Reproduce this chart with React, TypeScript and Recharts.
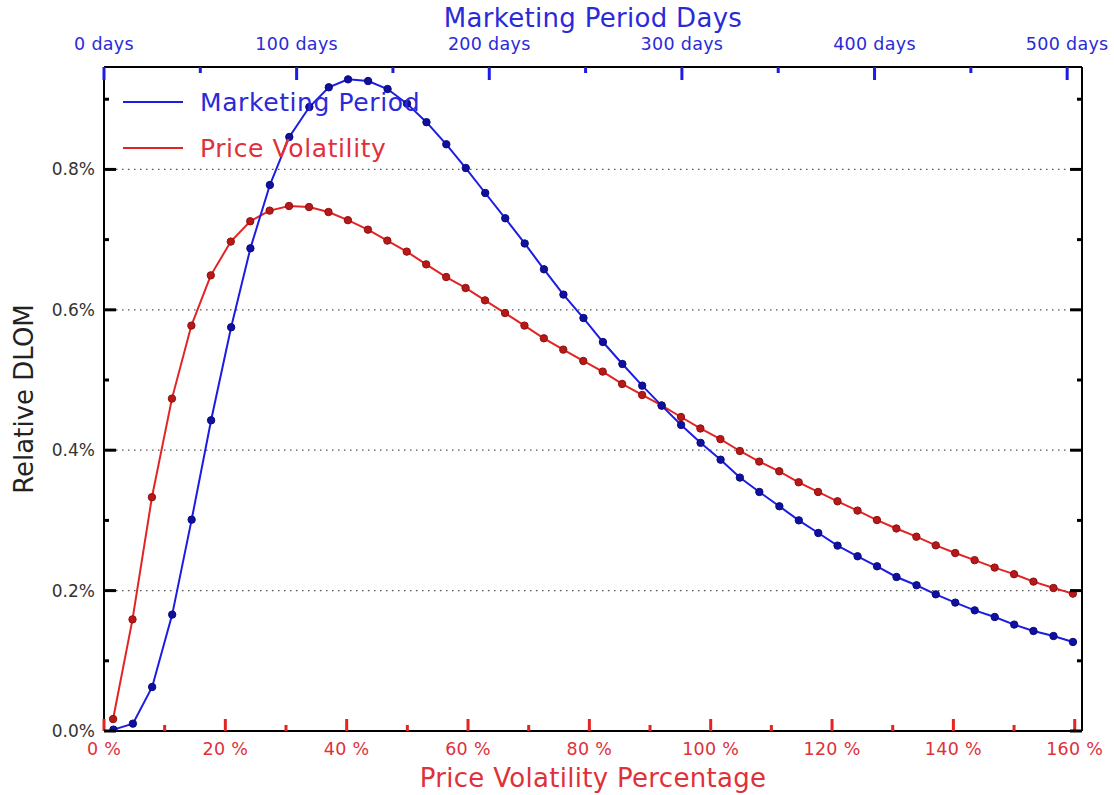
import { LineChart, Line, XAxis, YAxis, ReferenceLine, Legend, Label } from 'recharts';

// price volatility (%) and marketing period (days) at each sample
const volatility = [
  1.5, 4.7, 7.9, 11.2, 14.4, 17.6, 20.9, 24.1, 27.3, 30.5,
  33.8, 37.0, 40.2, 43.5, 46.7, 49.9, 53.1, 56.4, 59.6, 62.8,
  66.1, 69.3, 72.5, 75.7, 79.0, 82.2, 85.4, 88.7, 91.9, 95.1,
  98.3, 101.6, 104.8, 108.0, 111.3, 114.5, 117.7, 120.9, 124.2, 127.4,
  130.6, 133.9, 137.1, 140.3, 143.5, 146.8, 150.0, 153.2, 156.5, 159.7,
];
const periodDays = [
  4.9, 15.0, 25.0, 35.4, 45.5, 55.6, 66.0, 76.0, 86.1, 96.2,
  106.6, 116.7, 126.7, 137.1, 147.2, 157.3, 167.4, 177.7, 187.8, 197.9,
  208.3, 218.4, 228.4, 238.5, 248.9, 259.0, 269.1, 279.4, 289.5, 299.6,
  309.7, 320.1, 330.1, 340.2, 350.6, 360.7, 370.8, 380.8, 391.2, 401.3,
  411.4, 421.8, 431.8, 441.9, 452.0, 462.4, 472.5, 482.5, 492.9, 503.0,
];

// relative DLOM in percent
const priceVolatilityDlom = [
  0.017, 0.159, 0.333, 0.4735, 0.5775, 0.6491, 0.6972, 0.7261, 0.7413, 0.7479,
  0.7464, 0.7393, 0.7277, 0.7142, 0.6986, 0.6829, 0.6648, 0.6467, 0.6311, 0.6135,
  0.5954, 0.5775, 0.5594, 0.5433, 0.5271, 0.512, 0.4944, 0.4787, 0.4638, 0.4473,
  0.431, 0.4158, 0.3989, 0.3838, 0.370, 0.3543, 0.3405, 0.3272, 0.314, 0.3005,
  0.2885, 0.2768, 0.2645, 0.2535, 0.2434, 0.2328, 0.2234, 0.2128, 0.2037, 0.1957,
];
const marketingPeriodDlom = [
  0.002, 0.0105, 0.0627, 0.1658, 0.3011, 0.4426, 0.5751, 0.6876, 0.7778, 0.8462,
  0.8889, 0.917, 0.9283, 0.9259, 0.9145, 0.8937, 0.8673, 0.8358, 0.802, 0.7664,
  0.7304, 0.6945, 0.6577, 0.6217, 0.5883, 0.5541, 0.5228, 0.492, 0.4635, 0.436,
  0.4105, 0.3865, 0.361, 0.3405, 0.3201, 0.3001, 0.2821, 0.2641, 0.2489, 0.2346,
  0.2194, 0.2076, 0.1947, 0.1829, 0.1719, 0.1624, 0.1516, 0.1425, 0.1353, 0.1268,
];

const volTicks = [0, 10, 20, 30, 40, 50, 60, 70, 80, 90, 100, 110, 120, 130, 140, 150, 160];
const volLabelled = [0, 20, 40, 60, 80, 100, 120, 140, 160];
const dayTicks = [0, 50, 100, 150, 200, 250, 300, 350, 400, 450, 500];
const dayLabelled = [0, 100, 200, 300, 400, 500];
const dlomTicks = [0, 0.1, 0.2, 0.3, 0.4, 0.5, 0.6, 0.7, 0.8, 0.9];
const dlomLabelled = [0, 0.2, 0.4, 0.6, 0.8];
const gridLevels = [0.2, 0.4, 0.6, 0.8];

const FONT = '"DejaVu Sans", Verdana, sans-serif';
const BLUE = '#1c1ce3';
const RED = '#e22424';
const BLUE_TEXT = '#2a2ad8';
const RED_TEXT = '#e0303a';

const data = volatility.map((v, i) => ({
  vol: v,
  days: periodDays[i],
  price: priceVolatilityDlom[i],
  market: marketingPeriodDlom[i],
}));

const legendItems = [
  { name: 'Marketing Period', color: BLUE, text: BLUE_TEXT },
  { name: 'Price Volatility', color: RED, text: RED_TEXT },
];

function BottomTick({ x, y, payload }: any) {
  const major = volLabelled.includes(payload.value);
  return (
    <g>
      <line x1={x} x2={x} y1={y} y2={y - (major ? 12 : 6)} stroke={RED} strokeWidth={3} />
      {major && (
        <text x={x} y={y + 24} textAnchor="middle" fill={RED_TEXT} fontSize={17.5} letterSpacing={0.3} fontFamily={FONT}>
          {payload.value} %
        </text>
      )}
    </g>
  );
}

function TopTick({ x, y, payload }: any) {
  const major = dayLabelled.includes(payload.value);
  return (
    <g>
      <line x1={x} x2={x} y1={y} y2={y + (major ? 13 : 6)} stroke={BLUE} strokeWidth={3} />
      {major && (
        <text x={x} y={y - 17} textAnchor="middle" fill={BLUE_TEXT} fontSize={17.5} letterSpacing={0.3} fontFamily={FONT}>
          {payload.value} days
        </text>
      )}
    </g>
  );
}

function LeftTick({ x, y, payload }: any) {
  const major = dlomLabelled.includes(payload.value);
  return (
    <g>
      <line x1={x} x2={x + (major ? 12 : 5)} y1={y} y2={y} stroke="#000" strokeWidth={3} />
      {major && (
        <text x={x - 9} y={y + 6} textAnchor="end" fill="#333" fontSize={17} fontFamily={FONT}>
          {payload.value.toFixed(1)}%
        </text>
      )}
    </g>
  );
}

function RightTick({ x, y, payload }: any) {
  const major = dlomLabelled.includes(payload.value);
  return <line x1={x} x2={x - (major ? 12 : 5)} y1={y} y2={y} stroke="#000" strokeWidth={3} />;
}

function ChartLegend() {
  return (
    <div style={{ fontFamily: FONT, fontSize: 25, letterSpacing: 0.6 }}>
      {legendItems.map(item => (
        <div key={item.name} style={{ display: 'flex', alignItems: 'center', height: 46 }}>
          <svg width={60} height={4} style={{ marginRight: 17 }}>
            <line x1={0} x2={60} y1={2} y2={2} stroke={item.color} strokeWidth={2} />
          </svg>
          <span style={{ color: item.text }}>{item.name}</span>
        </div>
      ))}
    </div>
  );
}

export default function App() {
  return (
    <div style={{ position: 'absolute', left: 0, top: 0, background: '#fff' }}>
      <LineChart width={1114} height={795} data={data} margin={{ top: 0, right: 0, bottom: 0, left: 0 }}>
        <XAxis
          xAxisId="vol"
          dataKey="vol"
          type="number"
          orientation="bottom"
          domain={[0, 161.2]}
          allowDataOverflow
          ticks={volTicks}
          interval={0}
          height={64}
          tickSize={0}
          tickMargin={0}
          tickLine={false}
          tick={BottomTick}
          axisLine={{ stroke: '#000', strokeWidth: 2 }}
        >
          <Label
            content={({ viewBox }: any) => (
              <text x={viewBox.x + viewBox.width / 2} y={viewBox.y + 56} textAnchor="middle" fill={RED_TEXT} fontSize={26} letterSpacing={0.3} fontFamily={FONT}>
                Price Volatility Percentage
              </text>
            )}
          />
        </XAxis>
        <XAxis
          xAxisId="days"
          dataKey="days"
          type="number"
          orientation="top"
          domain={[0, 507.7]}
          allowDataOverflow
          ticks={dayTicks}
          interval={0}
          height={67}
          tickSize={0}
          tickMargin={0}
          tickLine={false}
          tick={TopTick}
          axisLine={{ stroke: '#000', strokeWidth: 2 }}
        >
          <Label
            content={({ viewBox }: any) => (
              <text x={viewBox.x + viewBox.width / 2} y={viewBox.y + 27} textAnchor="middle" fill={BLUE_TEXT} fontSize={26} letterSpacing={0.3} fontFamily={FONT}>
                Marketing Period Days
              </text>
            )}
          />
        </XAxis>
        <YAxis
          yAxisId="left"
          type="number"
          domain={[0, 0.9459]}
          allowDataOverflow
          ticks={dlomTicks}
          interval={0}
          width={104}
          tickSize={0}
          tickMargin={0}
          tickLine={false}
          tick={LeftTick}
          axisLine={{ stroke: '#000', strokeWidth: 2 }}
        >
          <Label
            content={({ viewBox }: any) => {
              const cx = viewBox.x + 33;
              const cy = viewBox.y + viewBox.height / 2;
              return (
                <text x={cx} y={cy} transform={`rotate(-90 ${cx} ${cy})`} textAnchor="middle" fill="#222" fontSize={26} fontFamily={FONT}>
                  Relative DLOM
                </text>
              );
            }}
          />
        </YAxis>
        <YAxis
          yAxisId="right"
          orientation="right"
          type="number"
          domain={[0, 0.9459]}
          allowDataOverflow
          ticks={dlomTicks}
          interval={0}
          width={32}
          tickSize={0}
          tickMargin={0}
          tickLine={false}
          tick={RightTick}
          axisLine={{ stroke: '#000', strokeWidth: 2 }}
        />
        {gridLevels.map(v => (
          <ReferenceLine key={v} y={v} yAxisId="left" xAxisId="vol" stroke="#555" strokeWidth={1.2} strokeDasharray="1.5 4.5" />
        ))}
        <Legend
          layout="vertical"
          align="center"
          verticalAlign="middle"
          wrapperStyle={{ top: 79, left: 123, width: 'auto' }}
          content={ChartLegend}
        />
        <Line
          xAxisId="vol"
          yAxisId="left"
          type="linear"
          dataKey="price"
          name="Price Volatility"
          stroke={RED}
          strokeWidth={2}
          dot={{ r: 3.7, fill: '#b81818', stroke: '#8e1010', strokeWidth: 1 }}
          activeDot={false}
          isAnimationActive={false}
        />
        <Line
          xAxisId="days"
          yAxisId="left"
          type="linear"
          dataKey="market"
          name="Marketing Period"
          stroke={BLUE}
          strokeWidth={2}
          dot={{ r: 3.7, fill: '#10109e', stroke: '#0a0a80', strokeWidth: 1 }}
          activeDot={false}
          isAnimationActive={false}
        />
      </LineChart>
    </div>
  );
}
